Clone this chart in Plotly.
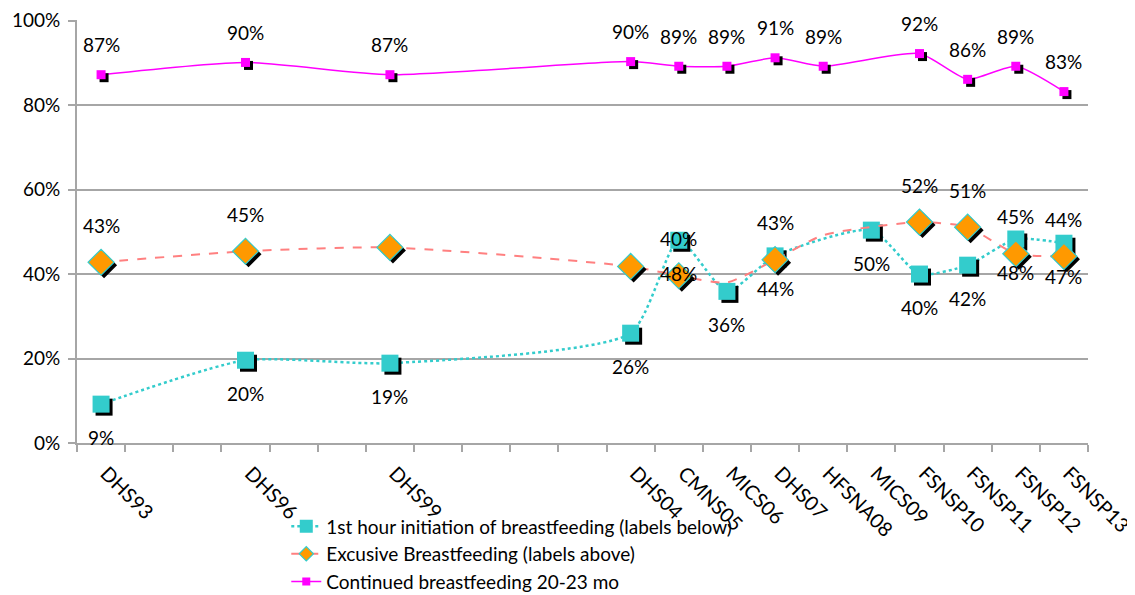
import plotly.graph_objects as go

# ---------------- data ----------------
years = [1993, 1996, 1999, 2004, 2005, 2006, 2007, 2008, 2009, 2010, 2011, 2012, 2013]
survey_labels = ["DHS93", "DHS96", "DHS99", "DHS04", "CMNS05", "MICS06", "DHS07",
                 "HFSNA08", "MICS09", "FSNSP10", "FSNSP11", "FSNSP12", "FSNSP13"]

first_hour = [9.2, 19.6, 18.9, 26.0, 48.0, 35.9, 44.3, None, 50.4, 40.0, 42.1, 48.3, 47.3]
first_hour_marked = [True] * 13
first_hour_labeled = [True, True, True, True, True, True, True, False, True, True, True, True, True]

exclusive = [42.8, 45.4, 46.3, 41.8, 39.6, 38.0, 43.4, 49.2, None, 52.3, 51.1, 44.8, 44.2]
exclusive_marked = [True, True, True, True, True, False, True, False, False, True, True, True, True]
exclusive_labeled = [True, True, False, False, True, False, True, False, False, True, True, True, True]

continued = [87.2, 90.1, 87.2, 90.3, 89.2, 89.2, 91.2, 89.2, None, 92.2, 86.1, 89.2, 83.2]
continued_marked = [True, True, True, True, True, True, True, True, False, True, True, True, True]
continued_labeled = continued_marked

series_names = ["1st hour initiation of breastfeeding (labels below)",
                "Excusive Breastfeeding (labels above)",
                "Continued breastfeeding 20-23 mo"]

y_ticks = [0, 20, 40, 60, 80, 100]

# ---------------- style ----------------
FONT = "Lato, 'Open Sans', sans-serif"
FS = 19
TEAL = "#33CCCC"
ORANGE = "#FF9900"
SALMON = "#FF8080"
PINK = "#FF00FF"
GRID = "#A6A6A6"

# the page body has an 8px default margin; size the figure to compensate
PAGE_OFFSET = 8
FIG_W, FIG_H = 1135 - PAGE_OFFSET, 595 - PAGE_OFFSET

# shadow offset (~3px) converted to data units: plot width 1011px for 21 years, height 423px for 100%
DX = 3 / (1011 / 21)
DY = 3 / 4.23

fig = go.Figure()

def add_series(name, vals, marked, labeled, color, dash, width, symbol, size,
               mcolor, mline, label_shift, legend_size):
    # smoothed connecting line
    fig.add_trace(go.Scatter(
        x=years, y=vals, mode="lines", connectgaps=True,
        line=dict(color=color, dash=dash, width=width, shape="spline", smoothing=0.6),
        showlegend=False, hoverinfo="skip"))
    mx = [x for x, v, m in zip(years, vals, marked) if m and v is not None]
    my = [v for v, m in zip(vals, marked) if m and v is not None]
    # shadow
    fig.add_trace(go.Scatter(
        x=[x + DX for x in mx], y=[v - DY for v in my], mode="markers",
        marker=dict(symbol=symbol, size=size, color="black", line=dict(width=0)),
        showlegend=False, hoverinfo="skip"))
    # markers
    fig.add_trace(go.Scatter(
        x=mx, y=my, mode="markers",
        marker=dict(symbol=symbol, size=size, color=mcolor, line=mline),
        showlegend=False, name=name))
    # legend entry
    fig.add_trace(go.Scatter(
        x=[None], y=[None], mode="lines+markers", name=name,
        line=dict(color=color, dash=dash, width=width),
        marker=dict(symbol=symbol, size=legend_size, color=mcolor, line=mline)))
    # data labels
    for x, v, lab in zip(years, vals, labeled):
        if lab and v is not None:
            fig.add_annotation(x=x, y=v, text=f"{round(v)}%", showarrow=False,
                               yshift=label_shift, font=dict(family=FONT, size=FS, color="black"))

add_series(series_names[0], first_hour, first_hour_marked, first_hour_labeled,
           TEAL, "dot", 2.5, "square", 17, TEAL, dict(width=0), -33, 13)
add_series(series_names[1], exclusive, exclusive_marked, exclusive_labeled,
           SALMON, "dash", 2, "diamond", 20, ORANGE, dict(width=1.2, color=TEAL), 37, 11)
add_series(series_names[2], continued, continued_marked, continued_labeled,
           PINK, "solid", 1.5, "square", 9, PINK, dict(width=0), 30, 8)

fig.update_layout(
    width=FIG_W, height=FIG_H,
    margin=dict(l=77 - PAGE_OFFSET, r=47, t=20 - PAGE_OFFSET, b=152, autoexpand=False),
    paper_bgcolor="white", plot_bgcolor="white",
    font=dict(family=FONT, size=FS, color="black"),
    legend=dict(x=0.207, y=-0.152, xanchor="left", yanchor="top",
                font=dict(family=FONT, size=19, color="black"),
                bgcolor="rgba(0,0,0,0)", tracegroupgap=0),
    xaxis=dict(range=[1992.5, 2013.5], tickmode="array", tickvals=years, ticktext=survey_labels,
               tickangle=45, ticks="", showgrid=False, zeroline=False, automargin=False,
               showline=True, linecolor=GRID, linewidth=2, ticklabelstandoff=9,
               ticklabelshift=5,
               tickfont=dict(family=FONT, size=20, color="black"),
               minor=dict(tickmode="linear", tick0=1992.5, dtick=1, ticks="outside",
                          ticklen=7, tickcolor=GRID, tickwidth=2, showgrid=False),
               fixedrange=True),
    yaxis=dict(range=[0, 100.15], tickmode="array", tickvals=y_ticks,
               ticktext=[f"{v}%" for v in y_ticks], automargin=False,
               showgrid=True, gridcolor=GRID, gridwidth=2, zeroline=False,
               showline=True, linecolor=GRID, linewidth=2, ticklabelstandoff=4,
               ticks="outside", ticklen=7, tickcolor=GRID, tickwidth=2,
               tickfont=dict(family=FONT, size=FS, color="black"),
               fixedrange=True),
)

fig.write_html("out.html")
